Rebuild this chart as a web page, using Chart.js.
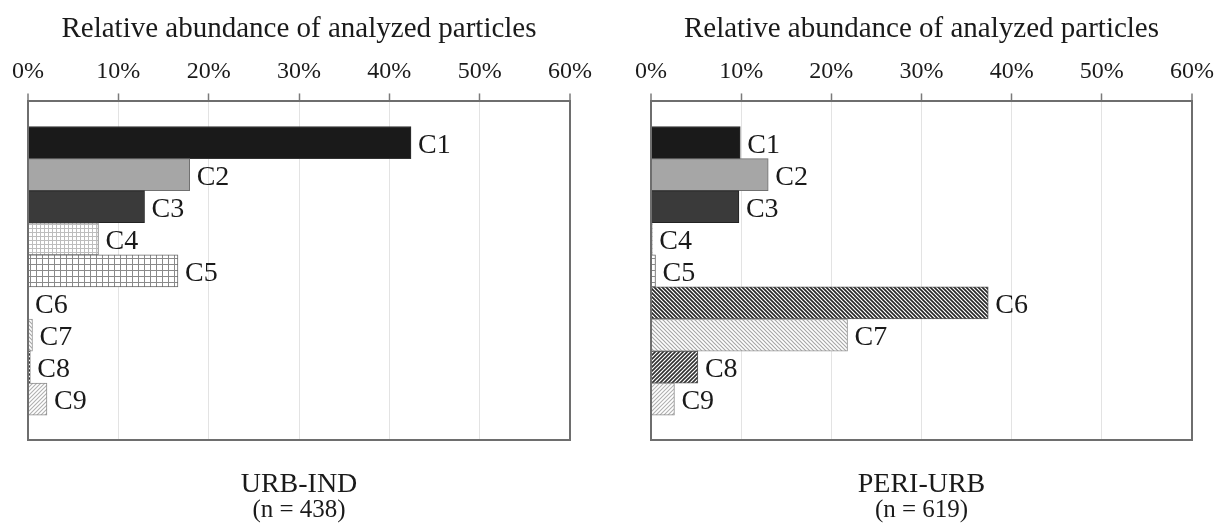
<!DOCTYPE html>
<html lang="en">
<head>
<meta charset="UTF-8">
<title>Relative abundance of analyzed particles</title>
<style>
  body { margin: 0; background: #ffffff; }
  .charts { display: flex; width: 1231px; height: 527px; }
  canvas { display: block; }
</style>
<script src="https://cdn.jsdelivr.net/npm/chart.js"></script>
</head>
<body>
<div class="charts">
  <canvas id="urbChart" width="615" height="527"></canvas>
  <canvas id="periChart" width="616" height="527"></canvas>
</div>
<script>
// particle classes (top to bottom)
const categories = ['C1', 'C2', 'C3', 'C4', 'C5', 'C6', 'C7', 'C8', 'C9'];

// relative abundance in %
const urbIndValues = [42.4, 17.9, 12.9, 7.8, 16.6, 0, 0.5, 0.25, 2.1];
const periUrbValues = [9.9, 13.0, 9.75, 0.15, 0.5, 37.4, 21.8, 5.2, 2.6];

const tickValues = [0, 10, 20, 30, 40, 50, 60];

const frameColor = '#6e6e6e';
const textColor = '#1a1a1a';

// small repeating fills like the original hatches
function makePattern(kind, color, size, width) {
    const c = document.createElement('canvas');
    c.width = size;
    c.height = size;
    const g = c.getContext('2d');
    g.fillStyle = '#ffffff';
    g.fillRect(0, 0, size, size);
    g.strokeStyle = color;
    g.lineWidth = width;
    g.beginPath();
    if (kind === 'grid') {
        g.moveTo(0, 0.5); g.lineTo(size, 0.5);
        g.moveTo(0.5, 0); g.lineTo(0.5, size);
    } else if (kind === 'back') { // "\\"
        g.moveTo(-1, -1); g.lineTo(size + 1, size + 1);
        g.moveTo(-1, size - 1); g.lineTo(1, size + 1);
        g.moveTo(size - 1, -1); g.lineTo(size + 1, 1);
    } else { // "/"
        g.moveTo(-1, size + 1); g.lineTo(size + 1, -1);
        g.moveTo(-1, 1); g.lineTo(1, -1);
        g.moveTo(size - 1, size + 1); g.lineTo(size + 1, size - 1);
    }
    g.stroke();
    return g.createPattern(c, 'repeat');
}

const fills = [
    '#1a1a1a',
    '#a6a6a6',
    '#3a3a3a',
    makePattern('grid', '#bdbdbd', 4, 1),
    makePattern('grid', '#8a8a8a', 6, 1),
    makePattern('back', '#262626', 4, 1.6),
    makePattern('back', '#a8a8a8', 4, 1.2),
    makePattern('fwd', '#303030', 4, 1.6),
    makePattern('fwd', '#b0b0b0', 4, 1.1)
];
const borders = ['#333333', '#707070', '#222222', '#7a7a7a', '#666666', '#555555', '#999999', '#555555', '#8c8c8c'];

// writes C1..C9 just right of each bar end
const barLabels = {
    id: 'barLabels',
    afterDatasetsDraw(chart) {
        const ctx = chart.ctx;
        const meta = chart.getDatasetMeta(0);
        ctx.save();
        ctx.font = '28px "Liberation Serif"';
        ctx.fillStyle = textColor;
        ctx.textAlign = 'left';
        ctx.textBaseline = 'alphabetic';
        meta.data.forEach((bar, i) => {
            ctx.fillText(categories[i], bar.x + 7, bar.y + 10);
        });
        ctx.restore();
    }
};

function edgeTick(ctx) {
    return ctx.tick && (ctx.tick.value === 0 || ctx.tick.value === 60);
}

function buildChart(canvasId, values, siteName, countText, padLeft, padRight) {
    const ctx = document.getElementById(canvasId).getContext('2d');
    return new Chart(ctx, {
        type: 'bar',
        data: {
            datasets: [{
                data: categories.map((c, i) => ({ x: values[i], y: i })),
                backgroundColor: fills,
                borderColor: borders,
                borderWidth: 1,
                categoryPercentage: 1,
                barPercentage: 1
            }]
        },
        options: {
            indexAxis: 'y',
            responsive: false,
            animation: false,
            layout: { padding: { top: 3, bottom: 3.75, left: padLeft, right: padRight } },
            plugins: {
                legend: { display: false },
                tooltip: { enabled: false },
                subtitle: {
                    display: true,
                    position: 'bottom',
                    text: siteName,
                    color: textColor,
                    font: { family: 'Liberation Serif', size: 28, lineHeight: 1 },
                    padding: { top: 30, bottom: 0 }
                },
                title: {
                    display: true,
                    position: 'bottom',
                    text: countText,
                    color: textColor,
                    font: { family: 'Liberation Serif', size: 25, weight: 'normal', lineHeight: 1.0 },
                    padding: { top: 0, bottom: 0 }
                }
            },
            scales: {
                x: {
                    type: 'linear',
                    position: 'top',
                    min: 0,
                    max: 60,
                    afterBuildTicks: (scale) => { scale.ticks = tickValues.map(v => ({ value: v })); },
                    ticks: {
                        padding: 7,
                        color: textColor,
                        font: { family: 'Liberation Serif', size: 24 },
                        callback: (v) => v + '%'
                    },
                    grid: {
                        color: (c) => edgeTick(c) ? frameColor : '#e3e3e3',
                        lineWidth: (c) => edgeTick(c) ? 2 : 1,
                        tickColor: '#7a7a7a',
                        tickLength: 8,
                        tickWidth: 1.5
                    },
                    border: { color: frameColor, width: 2 },
                    title: {
                        display: true,
                        text: 'Relative abundance of analyzed particles',
                        color: textColor,
                        font: { family: 'Liberation Serif', size: 29, lineHeight: 1.16 },
                        padding: { top: 10, bottom: 4 }
                    }
                },
                x2: {
                    type: 'linear',
                    position: 'bottom',
                    min: 0,
                    max: 60,
                    ticks: { display: false },
                    grid: { display: false, drawTicks: false },
                    border: { color: frameColor, width: 2 }
                },
                y: {
                    type: 'linear',
                    reverse: true,
                    offset: false,
                    min: -1.28,
                    max: categories.length - 1 + 1.28,
                    ticks: { display: false },
                    grid: { display: false, drawTicks: false },
                    border: { color: frameColor, width: 2 }
                }
            }
        },
        plugins: [barLabels]
    });
}

buildChart('urbChart', urbIndValues, 'URB-IND', '(n = 438)', 28, 45);
buildChart('periChart', periUrbValues, 'PERI-URB', '(n = 619)', 36, 39);
</script>
</body>
</html>
